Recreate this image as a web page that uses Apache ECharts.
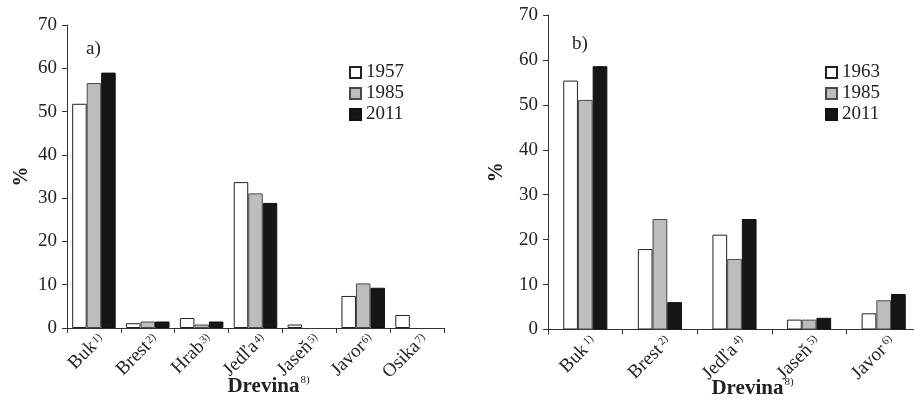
<!DOCTYPE html>
<html>
<head>
<meta charset="utf-8">
<script src="https://cdn.jsdelivr.net/npm/echarts@6/dist/echarts.min.js"></script>
<style>
  html, body { margin: 0; padding: 0; background: #ffffff; }
  #chart { width: 914px; height: 402px; }
</style>
</head>
<body>
<div id="chart"></div>
<script>
// Panel a) – tree species shares, years 1957 / 1985 / 2011
const speciesA = ['Buk', 'Brest', 'Hrab', 'Jedľa', 'Jaseň', 'Javor', 'Osika'];
const notesA = ['1)', '2)', '3)', '4)', '5)', '6)', '7)'];
const yearsA = ['1957', '1985', '2011'];
const a1957 = [51.8, 1.1, 2.3, 33.7, 0.8, 7.4, 3.0];
const a1985 = [56.6, 1.5, 0.8, 31.1, 0, 10.3, 0];
const a2011 = [59.0, 1.5, 1.5, 28.9, 0, 9.3, 0];

// Panel b) – tree species shares, years 1963 / 1985 / 2011
const speciesB = ['Buk', 'Brest', 'Jedľa', 'Jaseň', 'Javor'];
const notesB = ['1)', '2)', '4)', '5)', '6)'];
const yearsB = ['1963', '1985', '2011'];
const b1963 = [55.4, 17.9, 21.1, 2.2, 3.6];
const b1985 = [51.1, 24.6, 15.7, 2.2, 6.5];
const b2011 = [58.6, 6.1, 24.6, 2.6, 7.9];

const yTicks = [0, 10, 20, 30, 40, 50, 60, 70];

const FONT = '"Liberation Serif", "DejaVu Serif", serif';
const AXIS = '#333333';
const TEXT = '#222222';
const fills = ['#ffffff', '#bdbdbd', '#161616'];
const borders = ['#222222', '#4a4a4a', '#111111'];

// species names, axis line, ticks and the "Drevina" title
function catAxis(gridIndex, names, margin, shift, nameShift) {
  return {
    type: 'category',
    gridIndex: gridIndex,
    position: 'bottom',
    data: names,
    axisLine: { lineStyle: { color: AXIS, width: 1 } },
    axisTick: { show: true, alignWithLabel: false, length: 5, lineStyle: { color: AXIS } },
    axisLabel: {
      interval: 0,
      rotate: 45,
      margin: margin,
      padding: [shift, 0, 0, 0],
      fontFamily: FONT, fontSize: 19, color: TEXT
    },
    name: '{p| }{m|Drevina}{s|8)}',
    nameLocation: 'middle',
    nameGap: 47,
    nameMoveOverlap: false,
    nameTextStyle: {
      rich: {
        p: { fontFamily: FONT, fontSize: 11, width: nameShift, lineHeight: 24 },
        m: { fontFamily: FONT, fontSize: 21, fontWeight: 'bold', color: TEXT, lineHeight: 24 },
        s: { fontFamily: FONT, fontSize: 11, color: TEXT, lineHeight: 24, verticalAlign: 'top', padding: [0, 0, 0, 1] }
      }
    }
  };
}

// footnote marks that hang after each species name
function noteAxis(gridIndex, notes, margin, shift) {
  return {
    type: 'category',
    gridIndex: gridIndex,
    position: 'bottom',
    offset: 0,
    data: notes,
    axisLine: { show: false },
    axisTick: { show: false },
    axisLabel: {
      interval: 0,
      rotate: 45,
      align: 'left',
      margin: margin,
      padding: [shift, 0, 0, 0],
      fontFamily: FONT, fontSize: 11, color: TEXT
    }
  };
}

function valAxis(gridIndex, gap) {
  return {
    type: 'value',
    gridIndex: gridIndex,
    min: yTicks[0],
    max: yTicks[yTicks.length - 1],
    interval: yTicks[1] - yTicks[0],
    splitLine: { show: false },
    axisLine: { show: true, lineStyle: { color: AXIS, width: 1 } },
    axisTick: { show: true, length: 5, lineStyle: { color: AXIS } },
    axisLabel: { fontFamily: FONT, fontSize: 19, color: TEXT, margin: 10 },
    name: '%',
    nameLocation: 'middle',
    nameRotate: 90,
    nameGap: gap,
    nameMoveOverlap: false,
    nameTextStyle: { fontFamily: FONT, fontSize: 20, fontWeight: 'bold', color: TEXT }
  };
}

function bars(names, values, axisIdx, width) {
  return names.map(function (n, k) {
    return {
      name: n,
      type: 'bar',
      xAxisIndex: axisIdx,
      yAxisIndex: axisIdx,
      // a zero share leaves no visible bar (no outline along the axis)
      data: values[k].map(function (v) {
        return v === 0 ? { value: v, itemStyle: { borderWidth: 0 } } : v;
      }),
      barWidth: width,
      barGap: '0%',
      itemStyle: { color: fills[k], borderColor: borders[k], borderWidth: 1 },
      emphasis: { disabled: true },
      animation: false
    };
  });
}

function legend(names, left) {
  return {
    orient: 'vertical',
    left: left,
    top: 57,
    data: names,
    icon: 'rect',
    itemWidth: 11,
    itemHeight: 11,
    itemGap: 0,
    selectedMode: false,
    textStyle: { fontFamily: FONT, fontSize: 19, color: TEXT, lineHeight: 21 }
  };
}

const chart = echarts.init(document.getElementById('chart'), null, { renderer: 'canvas' });
chart.setOption({
  backgroundColor: '#ffffff',
  animation: false,
  title: [
    { text: 'a)', left: 81, top: 35, textStyle: { fontFamily: FONT, fontSize: 19, fontWeight: 'normal', color: TEXT } },
    { text: 'b)', left: 567, top: 30, textStyle: { fontFamily: FONT, fontSize: 19, fontWeight: 'normal', color: TEXT } }
  ],
  legend: [legend(yearsA, 344), legend(yearsB, 820)],
  grid: [
    { left: 67, top: 25, width: 377, height: 303, containLabel: false, outerBoundsMode: 'none' },
    { left: 548, top: 15, width: 373, height: 314.5, containLabel: false, outerBoundsMode: 'none' }
  ],
  xAxis: [
    catAxis(0, speciesA, 16, 17, 26),
    catAxis(1, speciesB, 18, 17, 36),
    noteAxis(0, notesA, 14, 4),
    noteAxis(1, notesB, 14, 10)
  ],
  yAxis: [valAxis(0, 35), valAxis(1, 41)],
  series: bars(yearsA, [a1957, a1985, a2011], 0, 14.5)
    .concat(bars(yearsB, [b1963, b1985, b2011], 1, 14.7))
});
</script>
</body>
</html>
